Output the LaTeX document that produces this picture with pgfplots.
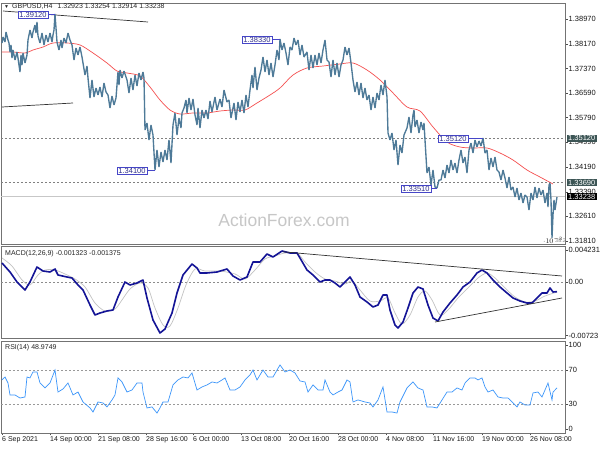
\documentclass[border=0pt]{standalone}
\usepackage{fontspec}
\setmainfont{Liberation Sans}
\usepackage{pgfplots}
\pgfplotsset{compat=1.18}
\definecolor{barc}{RGB}{78,122,152}
\definecolor{mac}{RGB}{245,80,80}
\definecolor{macdc}{RGB}{20,20,150}
\definecolor{sigc}{RGB}{195,195,195}
\definecolor{rsic}{RGB}{60,150,250}
\definecolor{lbl}{RGB}{70,70,200}
\definecolor{hlc}{RGB}{60,85,85}
\newcommand{\tf}{\fontsize{7.5}{8}\selectfont}
\newcommand{\smf}{\fontsize{7}{8}\selectfont}
\pgfplotsset{
 panel/.style={
  scale only axis, width=564pt, xmin=1, xmax=565, clip=false,
  axis line style={draw=black!55, line width=0.8pt},
  xtick=\empty,
  ytick pos=right, yticklabel pos=right,
  tick align=outside, major tick length=2.5pt,
  tick style={black!70, line width=0.5pt},
  yticklabel style={font=\tf, text=black!90, inner sep=0pt, anchor=west, xshift=1pt},
 },
}
\tikzset{
 lbox/.style={draw=lbl, fill=white, text=lbl!70!black, font=\tf, inner xsep=1.5pt, inner ysep=0.8pt, line width=0.6pt},
 rbox/.style={fill=hlc, text=white, font=\tf, inner xsep=1.5pt, inner ysep=1pt, anchor=west, xshift=1.5pt},
}
\begin{document}
\begin{tikzpicture}
\useasboundingbox (0pt,0pt) rectangle (600pt,450pt);
\fill[white] (0pt,0pt) rectangle (600pt,450pt);

% ---------------- main price panel ----------------
\begin{axis}[panel, at={(1pt,447pt)}, anchor=north west, height=241pt,
  ymin=1.31714, ymax=1.39486,
  ytick={1.38970,1.38170,1.37370,1.36590,1.35790,1.34990,1.34190,1.33390,1.32610,1.31810},
  yticklabels={1.38970,1.38170,1.37370,1.36590,1.35790,1.34990,1.34190,1.33390,1.32610,1.31810}]
% watermark
\node[font=\fontsize{17.5}{18}\selectfont, text=black!22] at (axis cs:284,1.32487) {ActionForex.com};
% horizontal levels
\addplot[black!50, line width=0.6pt, dash pattern=on 2pt off 2pt] coordinates {(1,1.35120)(565,1.35120)};
\addplot[black!50, line width=0.6pt, dash pattern=on 2pt off 2pt] coordinates {(1,1.33690)(565,1.33690)};
\addplot[black!22, line width=0.7pt] coordinates {(1,1.33238)(565,1.33238)};
% trend lines
\addplot[black!80, line width=0.7pt] coordinates {(3,1.39228)(148,1.38873)};
\addplot[black!80, line width=0.7pt] coordinates {(2,1.36132)(73,1.36261)};
% moving average
\addplot[mac, line width=0.7pt, smooth] coordinates {
(2,1.37906) (13,1.37906) (25,1.37874) (33,1.37970) (43,1.38067) (53,1.38196) (67,1.38196) (80,1.38132) (93,1.37874) (107,1.37551) (117,1.37293) (127,1.37229) (140,1.37132) (150,1.36777) (160,1.36358) (170,1.36035) (180,1.35906) (193,1.35939) (207,1.35939) (220,1.36003) (233,1.36035) (245,1.36035) (257,1.36261) (270,1.36519) (280,1.36745) (293,1.37164) (307,1.37390) (323,1.37454) (340,1.37519) (353,1.37551) (367,1.37325) (380,1.37003) (393,1.36584) (407,1.36132) (420,1.36003) (433,1.35487) (447,1.35003) (460,1.34842) (473,1.34810) (487,1.34810) (500,1.34648) (513,1.34423) (527,1.34100) (540,1.33874) (553,1.33649)};
% price bars
\addplot[barc, line width=1.35pt, line join=bevel] coordinates {
(2,1.38196) (3,1.38390)
(5,1.38228) (6,1.38551) (8,1.38293)
(9,1.38196) (10,1.37906) (11,1.38132) (12,1.37712)
(13,1.37970) (15,1.37648) (17,1.37906)
(18,1.37712) (20,1.37261) (21,1.37809) (22,1.37487)
(23,1.37874) (25,1.37551) (27,1.37809)
(28,1.38293) (30,1.38615) (32,1.38357) (33,1.38551)
(35,1.38777) (36,1.38519) (37,1.38873)
(38,1.38422) (40,1.38196) (42,1.38519)
(44,1.38132) (46,1.38454) (48,1.38228)
(50,1.38519) (52,1.38228) (53,1.38454)
(54,1.38615) (55,1.39131) (56,1.38680)
(57,1.38228) (59,1.37970) (61,1.38293) (62,1.38035)
(64,1.38357) (66,1.38196) (68,1.38519) (70,1.38293)
(72,1.38132) (74,1.37648) (76,1.38035)
(78,1.37809) (80,1.38067) (82,1.37745)
(83,1.37551) (85,1.37164) (87,1.37454)
(88,1.37067) (90,1.36422) (92,1.37003)
(94,1.36455) (96,1.36745) (98,1.36519) (100,1.36777)
(102,1.36455) (104,1.36906) (106,1.36616)
(108,1.36519) (110,1.36100) (112,1.36487) (114,1.36197)
(116,1.36422) (118,1.37261) (119,1.36842)
(120,1.37325) (122,1.37067) (124,1.37293)
(127,1.37003) (129,1.36584) (131,1.37067)
(133,1.36680) (135,1.37164) (137,1.36809)
(139,1.37229) (141,1.37003) (143,1.37261)
(144,1.37067) (145,1.35390)
(147,1.35616) (149,1.35068) (151,1.35552)
(153,1.35229) (155,1.34100) (157,1.34745)
(159,1.34197) (161,1.34681) (163,1.34358) (165,1.34745)
(167,1.34423) (169,1.35068) (171,1.34326)
(173,1.35552) (175,1.35939) (177,1.35229)
(179,1.35777) (181,1.35455) (182,1.35939)
(184,1.36100) (186,1.36358) (187,1.35939)
(189,1.36422) (191,1.36035) (193,1.36390)
(195,1.35874) (197,1.35552)
(198,1.36100) (200,1.35455) (202,1.36035)
(204,1.35777) (206,1.36035) (208,1.35745)
(210,1.36326) (212,1.35971)
(215,1.36455) (217,1.36035) (220,1.36390)
(222,1.36132) (224,1.36680) (227,1.36293)
(229,1.36358) (231,1.35777)
(234,1.36261) (236,1.35713) (238,1.36293) (240,1.35971)
(242,1.36358) (244,1.35939)
(246,1.36519) (248,1.36132) (250,1.36680)
(252,1.37164) (253,1.36745) (255,1.37422)
(257,1.36680) (259,1.37067)
(261,1.37325) (263,1.37745) (265,1.37261) (267,1.37648)
(269,1.37164) (271,1.37551) (273,1.37100)
(275,1.37487) (277,1.37970) (279,1.37648)
(280,1.38325) (282,1.37970)
(284,1.38196) (286,1.37874)
(288,1.37487) (290,1.38067)
(292,1.37970) (294,1.38357) (296,1.38132)
(298,1.38293) (300,1.37809) (302,1.38132) (304,1.37745)
(307,1.37906) (309,1.37325) (311,1.37809) (313,1.37390)
(315,1.37809) (317,1.37487) (319,1.37874) (321,1.37551)
(323,1.37970) (325,1.38293) (327,1.37648)
(329,1.37583) (331,1.37100) (333,1.37648)
(335,1.37164) (337,1.37551) (339,1.37100) (341,1.37487)
(343,1.37648) (345,1.38067) (347,1.37809) (349,1.38035) (351,1.37551)
(353,1.37003) (355,1.36616) (357,1.36938)
(359,1.36519) (361,1.36906) (363,1.36422) (365,1.36745) (367,1.36358)
(369,1.36519) (371,1.36035) (373,1.36455) (375,1.36100) (377,1.36584)
(379,1.36358) (381,1.36842)
(383,1.36519) (385,1.37003) (387,1.36455)
(388,1.35294)
(390,1.35068) (392,1.35294) (394,1.34745)
(396,1.35068) (398,1.34261) (400,1.34907)
(402,1.34648) (404,1.35229)
(407,1.35455) (409,1.35810) (411,1.35294)
(413,1.35874) (414,1.36035) (415,1.35487)
(417,1.35713) (419,1.35294) (421,1.35648) (423,1.35390)
(424,1.35616)
(425,1.35068) (427,1.34003)
(429,1.34197) (431,1.33616) (433,1.34100) (435,1.33552)
(437,1.33520) (439,1.33778)
(441,1.33778) (443,1.34100) (445,1.33842)
(447,1.34261) (449,1.34003) (451,1.34423) (453,1.34100)
(455,1.34326) (457,1.34003)
(459,1.34423) (461,1.34745) (463,1.34326)
(465,1.34519) (467,1.34003)
(469,1.34745) (471,1.34971) (473,1.34648)
(475,1.35068) (477,1.34842) (479,1.35036) (481,1.34874)
(483,1.35132) (485,1.34648)
(487,1.34745) (489,1.34100)
(491,1.34487) (493,1.34197) (495,1.34519) (497,1.34100)
(499,1.34036) (501,1.33778) (503,1.34100)
(505,1.33842) (507,1.33520) (509,1.33874) (511,1.33455)
(513,1.33552) (515,1.33229) (517,1.33520) (519,1.33133)
(521,1.33358) (523,1.33036) (525,1.33294)
(527,1.33229) (529,1.32810) (531,1.33358)
(533,1.33133) (535,1.33552) (537,1.33197) (539,1.33520)
(541,1.33294) (543,1.33455) (545,1.33036)
(547,1.33358) (548,1.32907)
(549,1.33616) (550,1.33681) (551,1.33133)
(552,1.31907) (553,1.32649)
(554,1.33133) (555,1.32810) (557,1.33229)};
% label connectors
\addplot[lbl, line width=0.6pt] coordinates {(49,1.39131)(55,1.39131)};
\addplot[lbl, line width=0.6pt] coordinates {(273,1.38325)(280,1.38325)};
\addplot[lbl, line width=0.6pt] coordinates {(148,1.34100)(155,1.34100)};
\addplot[lbl, line width=0.6pt] coordinates {(432,1.33520)(437,1.33520)};
\addplot[lbl, line width=0.6pt] coordinates {(469,1.35132)(483,1.35132)};
\node[lbox] at (axis cs:33,1.39109) {1.39120};
\node[lbox] at (axis cs:257,1.38309) {1.38330};
\node[lbox] at (axis cs:132,1.34084) {1.34100};
\node[lbox] at (axis cs:416,1.33504) {1.33510};
\node[lbox] at (axis cs:453,1.35113) {1.35120};
% title
\node[anchor=west, font=\smf, text=black!85, inner sep=0pt] at (axis cs:4,1.39357) {{\fontsize{5}{6}\selectfont ▼}\hspace{3pt}GBPUSD,H4\hspace{5pt}1.32923 1.33254 1.32914 1.33238};
% right boxes
\node[rbox] at (axis cs:565,1.35120) {1.35120};
\node[rbox] at (axis cs:565,1.33690) {1.33690};
\node[rbox, fill=black] at (axis cs:565,1.33238) {1.33238};
\node[font=\fontsize{5.5}{6}\selectfont, text=black!45, anchor=west, inner sep=0pt] at (axis cs:555,1.31830) {38.2};
\end{axis}

% ---------------- MACD panel ----------------
\begin{axis}[panel, at={(1pt,204pt)}, anchor=north west, height=92pt,
  ymin=-0.007542, ymax=0.004804,
  ytick={0.004231,0,-0.00723}, yticklabels={0.004231,0.00,-0.00723}]
\addplot[black!45, line width=0.5pt, dash pattern=on 2pt off 2pt] coordinates {(1,0)(565,0)};
\addplot[sigc, line width=0.7pt, smooth] coordinates {
(2,0.003194) (12,0.002120) (22,0.000242) (30,-0.000429) (38,0.000913) (45,0.001584) (55,0.001584) (65,0.001047) (75,0.000376) (85,-0.000698) (95,-0.002845) (105,-0.003919) (115,-0.003650) (122,-0.002442) (130,-0.000966) (140,-0.000161) (148,-0.000832) (155,-0.003516) (163,-0.005797) (170,-0.005932) (178,-0.003516) (186,-0.000429) (195,0.001718) (205,0.001449) (220,0.001449) (235,0.001047) (245,0.000376) (255,0.001584) (265,0.003060) (275,0.003462) (285,0.003865) (297,0.003865) (305,0.002657) (315,0.001315) (325,0.000376) (335,0.000107) (345,-0.000295) (352,0.000107) (360,-0.001100) (370,-0.002577) (380,-0.002577) (388,-0.002174) (395,-0.004187) (402,-0.005663) (410,-0.004455) (418,-0.002040) (425,-0.001235) (432,-0.002442) (440,-0.004455) (448,-0.003784) (458,-0.002174) (468,-0.000832) (478,0.000510) (487,0.001181) (495,0.000510) (505,-0.000832) (515,-0.002040) (525,-0.002711) (535,-0.002577) (545,-0.001905) (557,-0.001375)};
\addplot[macdc, line width=1.6pt, line join=round] coordinates {
(2,0.002523) (10,0.001315) (17,-0.000027) (25,-0.001100) (30,-0.000027) (37,0.001986) (43,0.001449) (50,0.001315) (55,0.001718) (58,0.000913) (67,0.000644) (72,0.000510) (78,-0.000429) (83,-0.001100) (90,-0.003113) (95,-0.004455) (100,-0.004187) (107,-0.003919) (113,-0.003784) (118,-0.002040) (125,-0.000027) (130,-0.000429) (137,-0.000161) (143,0.000242) (147,-0.002174) (153,-0.005126) (160,-0.006871) (165,-0.006334) (172,-0.004187) (177,-0.001503) (183,0.000913) (192,0.002389) (197,0.001852) (200,0.001181) (207,0.001181) (217,0.001315) (227,0.001718) (233,0.000778) (240,0.000242) (247,0.000644) (253,0.002657) (260,0.002657) (267,0.003731) (273,0.003328) (282,0.004133) (290,0.003865) (297,0.003865) (300,0.003194) (307,0.001584) (313,0.000913) (320,-0.000027) (325,0.000242) (330,0.000242) (335,-0.000161) (340,-0.000698) (345,-0.000027) (350,0.000644) (355,-0.000429) (360,-0.002040) (367,-0.002711) (373,-0.003382) (378,-0.003113) (383,-0.001771) (387,-0.001771) (390,-0.003784) (395,-0.005797) (398,-0.006200) (403,-0.005395) (408,-0.003516) (413,-0.001503) (418,-0.000698) (423,-0.000966) (428,-0.003113) (433,-0.004858) (438,-0.005261) (443,-0.004053) (450,-0.002845) (457,-0.001771) (463,-0.000698) (470,-0.000027) (477,0.001181) (482,0.001584) (487,0.001181) (493,0.000242) (500,-0.000698) (507,-0.001503) (513,-0.002174) (520,-0.002577) (527,-0.002845) (532,-0.002845) (537,-0.002174) (542,-0.001503) (547,-0.001503) (550,-0.000832) (553,-0.001369) (557,-0.001323)};
\addplot[black!80, line width=0.7pt] coordinates {(283,0.004026)(562,0.000778)};
\addplot[black!80, line width=0.7pt] coordinates {(435,-0.005395)(562,-0.002174)};
\node[anchor=west, font=\smf, text=black!85, inner sep=0pt] at (axis cs:5,0.003731) {MACD(12,26,9) -0.001323 -0.001375};
\end{axis}

% ---------------- RSI panel ----------------
\begin{axis}[panel, at={(1pt,109pt)}, anchor=north west, height=92pt,
  ymin=-4.4, ymax=104.7,
  ytick={100,70,30,0}, yticklabels={100,70,30,0},
  xtick={2,50,98,146,193,241,289,338,386,433,482,530},
  xticklabels={6 Sep 2021,14 Sep 00:00,21 Sep 08:00,28 Sep 16:00,6 Oct 00:00,13 Oct 08:00,20 Oct 16:00,28 Oct 00:00,4 Nov 08:00,11 Nov 16:00,19 Nov 00:00,26 Nov 08:00},
  xtick pos=left,
  xticklabel style={font=\smf, text=black!90, anchor=north west, inner sep=0pt, xshift=0pt, yshift=-1pt}]
\addplot[black!40, line width=0.5pt, dash pattern=on 2pt off 2pt] coordinates {(1,70)(565,70)};
\addplot[black!40, line width=0.5pt, dash pattern=on 2pt off 2pt] coordinates {(1,30)(565,30)};
\addplot[rsic, line width=0.7pt] coordinates {
(2,58.5) (5,62.0) (8,54.9) (10,40.7) (15,40.7) (20,37.1) (25,38.3) (27,62.0) (30,60.9) (33,68.0) (37,68.0) (40,54.9) (45,49.0) (50,54.9) (55,70.3) (58,44.2) (63,47.8) (68,54.9) (73,40.7) (78,44.2) (83,32.4) (90,25.3) (93,20.5) (98,32.4) (103,31.2) (107,26.5) (112,34.8) (115,40.7) (118,60.9) (122,56.1) (127,44.2) (132,46.6) (137,54.9) (142,54.9) (143,44.2) (147,25.3) (152,26.5) (157,19.3) (160,25.3) (163,32.4) (168,32.4) (173,52.6) (178,58.5) (183,62.0) (188,60.9) (192,66.8) (197,46.6) (202,50.2) (207,52.6) (212,56.1) (217,54.9) (222,58.5) (225,60.9) (230,46.6) (235,46.6) (240,50.2) (245,58.5) (250,64.4) (253,70.3) (257,58.5) (263,70.3) (268,62.0) (273,62.0) (280,76.3) (285,68.0) (290,70.3) (295,66.8) (300,57.3) (305,56.1) (308,44.2) (313,52.6) (318,46.6) (323,46.6) (325,58.5) (330,44.2) (333,40.7) (338,44.2) (342,46.6) (347,58.5) (350,56.1) (353,32.4) (358,34.8) (365,32.4) (370,31.2) (373,26.5) (378,34.8) (383,50.2) (387,20.5) (392,20.5) (397,19.3) (400,32.4) (407,49.0) (413,56.1) (418,49.0) (423,46.6) (427,26.5) (432,26.5) (437,25.3) (442,34.8) (447,44.2) (452,44.2) (457,49.0) (462,46.6) (465,54.9) (470,60.9) (475,60.9) (478,58.5) (482,60.9) (485,50.2) (488,44.2) (493,46.6) (498,38.3) (503,37.1) (508,37.1) (512,32.4) (517,26.5) (520,32.4) (525,28.8) (530,28.8) (533,43.1) (538,44.2) (542,38.3) (545,46.6) (548,54.9) (552,34.8) (553,44.2) (557,49.0)};
\node[anchor=west, font=\smf, text=black!85, inner sep=0pt] at (axis cs:5,96.5) {RSI(14) 48.9749};
\end{axis}
\end{tikzpicture}
\end{document}
